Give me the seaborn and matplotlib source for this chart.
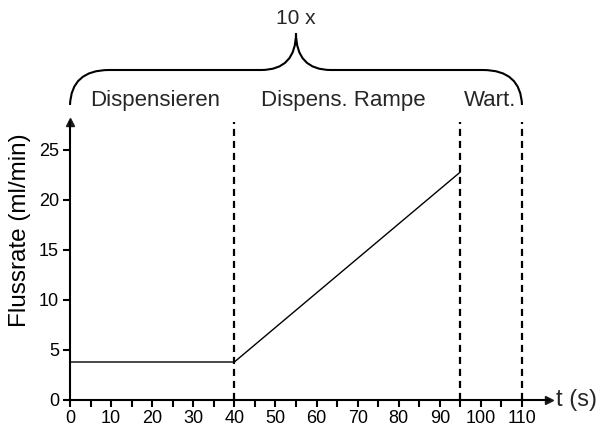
import matplotlib
matplotlib.use("Agg")
import matplotlib.pyplot as plt
import seaborn as sns
import pandas as pd
from matplotlib.path import Path
from matplotlib.patches import PathPatch

# data
t_values = [0, 40, 95]
flow_values = [3.8, 3.8, 22.8]
phase_bounds = [40, 95, 110]
phase_labels = ["Dispensieren", "Dispens. Rampe", "Wart."]
phase_centers = [20.8, 66.4, 102.2]
x_ticks = list(range(0, 111, 10))
y_ticks = [0, 5, 10, 15, 20, 25]

sns.set_theme(style="white")
plt.rcParams['font.family'] = ['Liberation Sans', 'DejaVu Sans']

fig = plt.figure(figsize=(6, 4.3), dpi=100)
ax = fig.add_axes([70/600, 30/430, 478.7/600, 278/430])

df = pd.DataFrame({"t": t_values, "flow": flow_values})
sns.lineplot(data=df, x="t", y="flow", ax=ax, color="black", linewidth=1.0)

ax.set_xlim(0, 116.5)
ax.set_ylim(0, 27.8)

for b in phase_bounds:
    ax.axvline(b, color="black", linestyle=(0, (3.2, 2.2)), linewidth=1.6, ymin=0, ymax=1)

for s in ["top", "right"]:
    ax.spines[s].set_visible(False)
for s in ["left", "bottom"]:
    ax.spines[s].set_color("black")
    ax.spines[s].set_linewidth(1.5)

ax.plot(1, 0, ">k", transform=ax.get_yaxis_transform(), clip_on=False, markersize=6)
ax.plot(0, 1, "^k", transform=ax.get_xaxis_transform(), clip_on=False, markersize=6)

ax.set_xticks(list(range(0, 111, 5)))
ax.set_xticklabels([str(v) if v % 10 == 0 else "" for v in range(0, 111, 5)])
ax.set_yticks(y_ticks)
ax.set_yticklabels([str(v) for v in y_ticks])
ax.tick_params(axis="both", which="major", direction="out", length=5, width=1.5,
               color="black", labelsize=13, labelcolor="black", bottom=True, left=True)
ax.tick_params(axis="x", pad=2.5)
ax.tick_params(axis="y", pad=3)

ax.set_xlabel("")
ax.set_ylabel("Flussrate (ml/min)", fontsize=17.5, color="black")
ax.yaxis.set_label_coords(-0.082, 0.611)
ax.text(1.016, 0, "t (s)", transform=ax.transAxes, fontsize=17, va="center", ha="left")

# phase labels
for lbl, c in zip(phase_labels, phase_centers):
    ax.text(c, 29.95, lbl, fontsize=16, ha="center", va="center", clip_on=False)

# brace
yb, yh, yp = 29.5, 33.0, 36.7
verts = [(0, yb), (0.3, yh), (9.5, yh),
         (46.5, yh),
         (55, yh), (55, yp),
         (55, yh), (63.5, yh),
         (100.5, yh),
         (109.7, yh), (110, yb)]
codes = [Path.MOVETO, Path.CURVE3, Path.CURVE3,
         Path.LINETO,
         Path.CURVE3, Path.CURVE3,
         Path.CURVE3, Path.CURVE3,
         Path.LINETO,
         Path.CURVE3, Path.CURVE3]
ax.add_patch(PathPatch(Path(verts, codes), facecolor="none", edgecolor="black",
                       linewidth=1.5, clip_on=False))
ax.text(55, 38.2, "10 x", fontsize=15, ha="center", va="center", clip_on=False)

fig.savefig("out.png", dpi=100, facecolor="white")
